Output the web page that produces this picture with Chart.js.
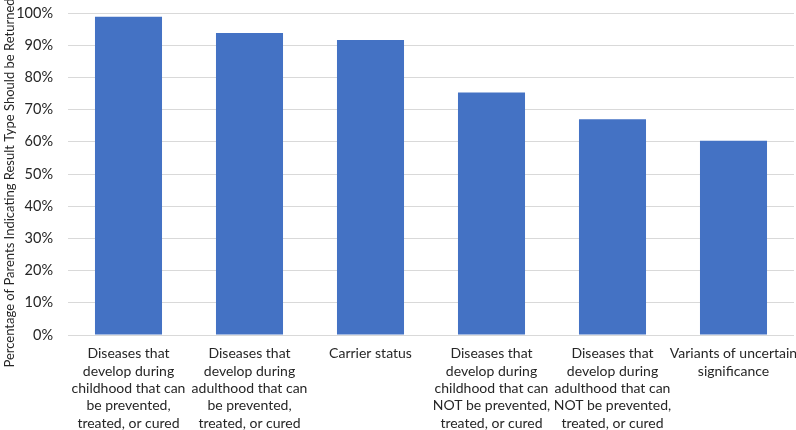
<!DOCTYPE html>
<html>
<head>
<meta charset="utf-8">
<script src="https://cdn.jsdelivr.net/npm/chart.js@4"></script>
<style>
html,body{margin:0;padding:0;background:#fff;}
#wrap{width:796px;height:430px;}
</style>
</head>
<body>
<div id="wrap"><canvas id="c" width="796" height="430"></canvas></div>
<script>
const categories = [
  ["Diseases that","develop during","childhood that can","be prevented,","treated, or cured"],
  ["Diseases that","develop during","adulthood that can","be prevented,","treated, or cured"],
  ["Carrier status"],
  ["Diseases that","develop during","childhood that can","NOT be prevented,","treated, or cured"],
  ["Diseases that","develop during","adulthood that can","NOT be prevented,","treated, or cured"],
  ["Variants of uncertain","significance"]
];
const values = [98.8, 93.8, 91.6, 75.3, 67.0, 60.3];
const yTicks = [0,10,20,30,40,50,60,70,80,90,100];
const yTitle = "Percentage of Parents Indicating Result Type Should be Returned";

const FONT = "Lato, 'Open Sans', sans-serif";

const yTitlePlugin = {
  id: 'yTitle',
  afterDraw(chart) {
    const ctx = chart.ctx;
    const area = chart.chartArea;
    ctx.save();
    ctx.font = "13px " + FONT;
    ctx.fillStyle = '#262626';
    ctx.textAlign = 'center';
    ctx.textBaseline = 'middle';
    ctx.translate(10, (area.top + area.bottom) / 2 + 9);
    ctx.rotate(-Math.PI / 2);
    ctx.fillText(yTitle, 0, 0);
    ctx.restore();
  }
};

new Chart(document.getElementById('c'), {
  type: 'bar',
  data: {
    labels: categories,
    datasets: [{
      data: values,
      backgroundColor: '#4472C4',
      borderWidth: 0,
      categoryPercentage: 1,
      barPercentage: 0.554
    }]
  },
  plugins: [yTitlePlugin],
  options: {
    responsive: false,
    animation: false,
    devicePixelRatio: 1,
    layout: { padding: { top: 13, right: 2, left: 0, bottom: 0 } },
    plugins: { legend: { display: false }, tooltip: { enabled: false } },
    scales: {
      x: {
        grid: { display: false, drawTicks: false },
        border: { display: false },
        ticks: {
          color: '#262626',
          font: { family: FONT, size: 14, lineHeight: 1.24 },
          maxRotation: 0, minRotation: 0, autoSkip: false,
          padding: 10
        },
        afterFit(s) { s.height = 95; s.paddingLeft = 0; s.paddingRight = 0; }
      },
      y: {
        min: 0, max: 100,
        afterBuildTicks(s) { s.ticks = yTicks.map(v => ({ value: v })); },
        grid: { color: '#d9d9d9', drawTicks: false, lineWidth: 1 },
        border: { display: false },
        ticks: {
          color: '#262626',
          font: { family: FONT, size: 14.5 },
          padding: 15,
          callback: v => v + '%'
        },
        title: { display: false },
        afterFit(s) { s.width = 68; s.paddingTop = 0; s.paddingBottom = 0; }
      }
    }
  }
});
</script>
</body>
</html>
